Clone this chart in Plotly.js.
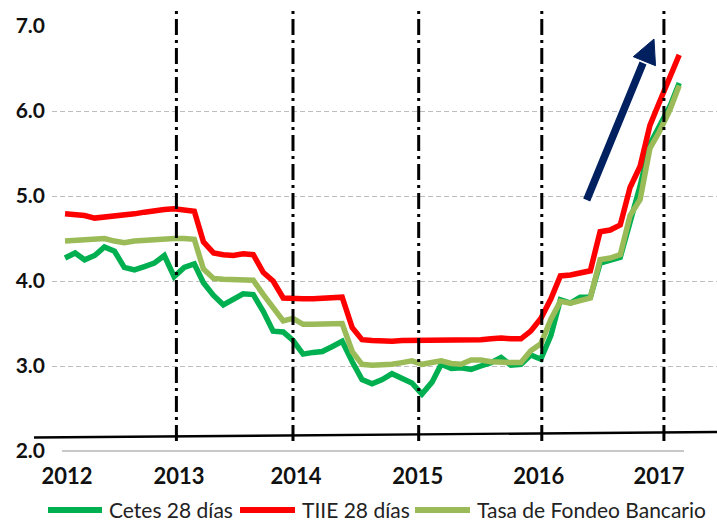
<!DOCTYPE html>
<html><head><meta charset="utf-8">
<script src="https://cdn.plot.ly/plotly-3.0.1.min.js"></script>
<style>html,body{margin:0;padding:0;background:#fff;}#chart{width:717px;height:521px;}</style>
</head><body><div id="chart"></div>
<script>
// Monthly observations, Jan 2012 - Mar 2017
const months = [];
for (let y = 2012; y <= 2017; y++) {
  for (let m = 1; m <= 12; m++) {
    if (y === 2017 && m > 3) break;
    months.push(y + '-' + String(m).padStart(2, '0') + '-01');
  }
}

const cetes = [
  4.27, 4.33, 4.25, 4.30, 4.40, 4.35, 4.16, 4.13, 4.17, 4.21, 4.30, 4.05,
  4.16, 4.20, 3.98, 3.83, 3.72, 3.79, 3.85, 3.84, 3.64, 3.41, 3.40, 3.30,
  3.14, 3.16, 3.17, 3.23, 3.29, 3.05, 2.84, 2.79, 2.84, 2.91, 2.86, 2.80,
  2.67, 2.81, 3.02, 2.97, 2.98, 2.96, 3.00, 3.04, 3.10, 3.01, 3.02, 3.13,
  3.08, 3.36, 3.78, 3.74, 3.81, 3.81, 4.21, 4.24, 4.28, 4.69, 5.12, 5.61,
  5.83, 6.06, 6.33
];
const tiie = [
  4.79, 4.78, 4.77, 4.74, 4.75, 4.76, 4.77, 4.79, 4.81, 4.83, 4.84, 4.85,
  4.84, 4.82, 4.46, 4.33, 4.31, 4.30, 4.32, 4.31, 4.10, 4.00, 3.80, 3.79,
  3.79, 3.79, 3.80, 3.81, 3.81, 3.45, 3.31, 3.30, 3.29, 3.29, 3.30, 3.30,
  3.30, 3.30, 3.30, 3.30, 3.30, 3.30, 3.31, 3.32, 3.33, 3.32, 3.32, 3.41,
  3.56, 3.79, 4.06, 4.07, 4.10, 4.12, 4.58, 4.60, 4.66, 5.10, 5.35, 5.83,
  6.12, 6.40, 6.66
];
const fondeo = [
  4.47, 4.48, 4.48, 4.49, 4.50, 4.47, 4.45, 4.47, 4.48, 4.49, 4.49, 4.50,
  4.50, 4.49, 4.14, 4.03, 4.02, 4.02, 4.01, 4.01, 3.84, 3.68, 3.53, 3.56,
  3.49, 3.49, 3.49, 3.50, 3.50, 3.17, 3.02, 3.01, 3.01, 3.02, 3.04, 3.06,
  3.02, 3.04, 3.06, 3.03, 3.02, 3.07, 3.07, 3.05, 3.04, 3.04, 3.04, 3.18,
  3.26, 3.55, 3.76, 3.74, 3.77, 3.80, 4.25, 4.27, 4.31, 4.77, 4.96, 5.56,
  5.77, 6.02, 6.30
];

const seriesNames = ['Cetes 28 días', 'TIIE 28 días', 'Tasa de Fondeo Bancario'];
const seriesColors = ['#00b050', '#ff0000', '#9bbb59'];

const yearTickDates = ['2012-01-07', '2012-12-16', '2013-12-10', '2014-12-19', '2015-12-26', '2016-12-29'];
const yearTickText = ['2012', '2013', '2014', '2015', '2016', '2017'];
const markerDates = ['2012-12-08', '2013-12-01', '2014-12-22', '2016-01-04', '2017-01-13'];
const yTicks = [2, 3, 4, 5, 6, 7];
const yTickText = ['2.0', '3.0', '4.0', '5.0', '6.0', '7.0'];
const yGrid = [3, 4, 5, 6];

const seriesValues = [cetes, tiie, fondeo];
const drawOrder = [0, 1, 2];
const traces = drawOrder.map(i => ({
  type: 'scatter', mode: 'lines', name: seriesNames[i],
  x: months, y: seriesValues[i],
  line: {color: seriesColors[i], width: 5.5},
  hoverinfo: 'x+y+name'
}));
traces.push({type: 'scatter', mode: 'lines', x: [], y: [], yaxis: 'y2', showlegend: false, hoverinfo: 'skip'});

const W = 717, H = 521, ML = 52, MR = 0, MT = 26, MB = 68;
const PW = W - ML - MR, PH = H - MT - MB;
const px = v => (v - ML) / PW;          // pixel -> paper x
const py = v => (H - MB - v) / PH;      // pixel -> paper y

const shapes = [];
// light axis line at 2.0
shapes.push({type: 'line', xref: 'paper', yref: 'paper', x0: px(62), x1: px(684), y0: py(451), y1: py(451),
  line: {color: '#c8c8c8', width: 2.2}});
// vertical dash-dot markers
markerDates.forEach(d => shapes.push({type: 'line', xref: 'x', yref: 'paper', x0: d, x1: d,
  y0: py(441), y1: py(10), line: {color: '#000', width: 3, dash: '16px,5px,3px,5px'}}));
// slanted baseline
shapes.push({type: 'line', xref: 'paper', yref: 'paper', x0: px(34), y0: py(437.5), x1: px(717), y1: py(432),
  line: {color: '#000', width: 2.4}});
// navy arrow
shapes.push({type: 'line', xref: 'paper', yref: 'paper', x0: px(586.7), y0: py(200), x1: px(643), y1: py(63),
  line: {color: '#002060', width: 7.5}});
shapes.push({type: 'path', xref: 'paper', yref: 'paper',
  path: 'M' + px(633.3) + ',' + py(56.7) + ' L' + px(654) + ',' + py(39) + ' L' + px(655.5) + ',' + py(65.7) + ' Z',
  fillcolor: '#002060', line: {color: '#002060', width: 1}});

// custom legend
const legX = [[48, 102, 107], [240, 295, 300], [415, 470, 475]];
const legY = py(510);
const annotations = [];
legX.forEach((p, i) => {
  shapes.push({type: 'line', xref: 'paper', yref: 'paper', x0: px(p[0]), x1: px(p[1]), y0: legY, y1: legY,
    line: {color: seriesColors[i], width: 6}});
  annotations.push({xref: 'paper', yref: 'paper', x: px(p[2]), y: legY, xanchor: 'left', yanchor: 'middle',
    text: seriesNames[i], showarrow: false, font: {family: 'Lato', size: 21, color: '#222'}});
});

const layout = {
  width: W, height: H,
  margin: {l: ML, r: MR, t: MT, b: MB, pad: 0},
  paper_bgcolor: '#fff', plot_bgcolor: '#fff',
  showlegend: false,
  xaxis: {
    type: 'date', range: ['2011-11-22', '2017-06-25'],
    showgrid: false, zeroline: false, showline: false, ticks: '',
    tickmode: 'array', tickvals: yearTickDates, ticktext: yearTickText,
    tickfont: {family: 'Lato', size: 22, color: '#111', weight: 700},
    ticklabelstandoff: 8
  },
  yaxis: {
    range: [1.9765, 7], showgrid: false, zeroline: false, showline: false, ticks: '',
    tickmode: 'array', tickvals: yTicks, ticktext: yTickText,
    tickfont: {family: 'Lato', size: 21, color: '#111', weight: 700},
    ticklabelstandoff: 6
  },
  yaxis2: {
    overlaying: 'y', anchor: 'x', side: 'left', range: [1.9765, 7],
    tickmode: 'array', tickvals: yGrid, showticklabels: false, ticks: '',
    showgrid: true, gridcolor: '#bdbdbd', gridwidth: 1, griddash: '5px,3px',
    zeroline: false, showline: false
  },
  shapes: shapes,
  annotations: annotations
};

Plotly.newPlot('chart', traces, layout, {displayModeBar: false, staticPlot: true});
</script>
</body></html>
